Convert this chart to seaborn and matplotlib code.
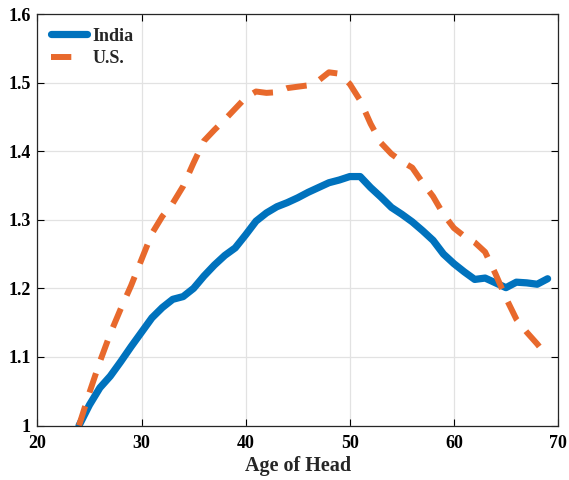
import numpy as np
import pandas as pd
import seaborn as sns
import matplotlib
matplotlib.use('Agg')
import matplotlib.pyplot as plt

ages = [24, 25, 26, 27, 28, 29, 30, 31, 32, 33, 34, 35, 36, 37, 38, 39, 40,
        41, 42, 43, 44, 45, 46, 47, 48, 49, 50, 51, 52, 53, 54, 55, 56, 57,
        58, 59, 60, 61, 62, 63, 64, 65, 66, 67, 68, 69]

india = [1.000, 1.030, 1.055, 1.072, 1.093, 1.115, 1.136, 1.157, 1.172, 1.184,
         1.188, 1.200, 1.218, 1.234, 1.248, 1.259, 1.278, 1.298, 1.310, 1.319,
         1.325, 1.332, 1.340, 1.347, 1.354, 1.358, 1.363, 1.363, 1.347, 1.333,
         1.318, 1.308, 1.297, 1.284, 1.270, 1.250, 1.236, 1.224, 1.213, 1.215,
         1.208, 1.201, 1.209, 1.208, 1.206, 1.214]

us = [1.000, 1.048, 1.093, 1.134, 1.170, 1.204, 1.242, 1.280, 1.305, 1.324,
      1.349, 1.383, 1.415, 1.431, 1.446, 1.462, 1.478, 1.487, 1.485, 1.486,
      1.492, 1.494, 1.496, 1.503, 1.515, 1.513, 1.498, 1.474, 1.440, 1.412,
      1.396, 1.385, 1.376, 1.354, 1.334, 1.308, 1.288, 1.276, 1.267, 1.253,
      1.221, 1.186, 1.155, 1.136, 1.119, 1.100]

x_ticks = [20, 30, 40, 50, 60, 70]
y_ticks = [1, 1.1, 1.2, 1.3, 1.4, 1.5, 1.6]
y_tick_labels = ['1', '1.1', '1.2', '1.3', '1.4', '1.5', '1.6']

sns.set_style('ticks')
plt.rcParams['font.family'] = ['Liberation Serif', 'DejaVu Serif']
plt.rcParams['font.weight'] = 'bold'

fig = plt.figure(figsize=(5.69, 4.8), dpi=100)
ax = fig.add_axes([0.0657, 0.1135, 0.9150, 0.8573])

sns.lineplot(x=ages, y=india, ax=ax, color='#0072BD', lw=5.2, label='India')
sns.lineplot(x=ages, y=us, ax=ax, color='#E8692C', lw=4.3, label='U.S.',
             linestyle=(0, (3.4, 2.4)))
ax.lines[1].set_dash_capstyle('butt')
ax.lines[0].set_solid_joinstyle('round')

ax.set_xlim(20, 70)
ax.set_ylim(1, 1.6)
ax.set_xticks(x_ticks)
ax.set_yticks(y_ticks)
ax.set_yticklabels(y_tick_labels)
ax.tick_params(direction='in', length=5, width=0.8, top=True, right=True,
               labelsize=13, colors='black')
ax.tick_params(axis='x', pad=7)
ax.tick_params(axis='y', pad=5)
for lab in ax.get_xticklabels() + ax.get_yticklabels():
    lab.set_fontweight('bold')
ax.grid(True, color='#E2E2E2', lw=0.9)
ax.set_axisbelow(True)
for s in ax.spines.values():
    s.set_color('#262626')
    s.set_linewidth(0.9)

ax.set_xlabel('Age of Head', fontsize=14.5, fontweight='bold', labelpad=3)
ax.set_ylabel('')

leg = ax.legend(loc='upper left', frameon=False,
                handlelength=2.0, handletextpad=0.3, labelspacing=0.3,
                borderaxespad=0.35, prop={'weight': 'bold', 'size': 13})
# legend sample for U.S. shows just one dash, like the original
us_handle = leg.get_lines()[1]
us_handle.set_linestyle((0, (3.4, 10)))
us_handle.set_dash_capstyle('butt')

fig.savefig('out.png', dpi=100)
